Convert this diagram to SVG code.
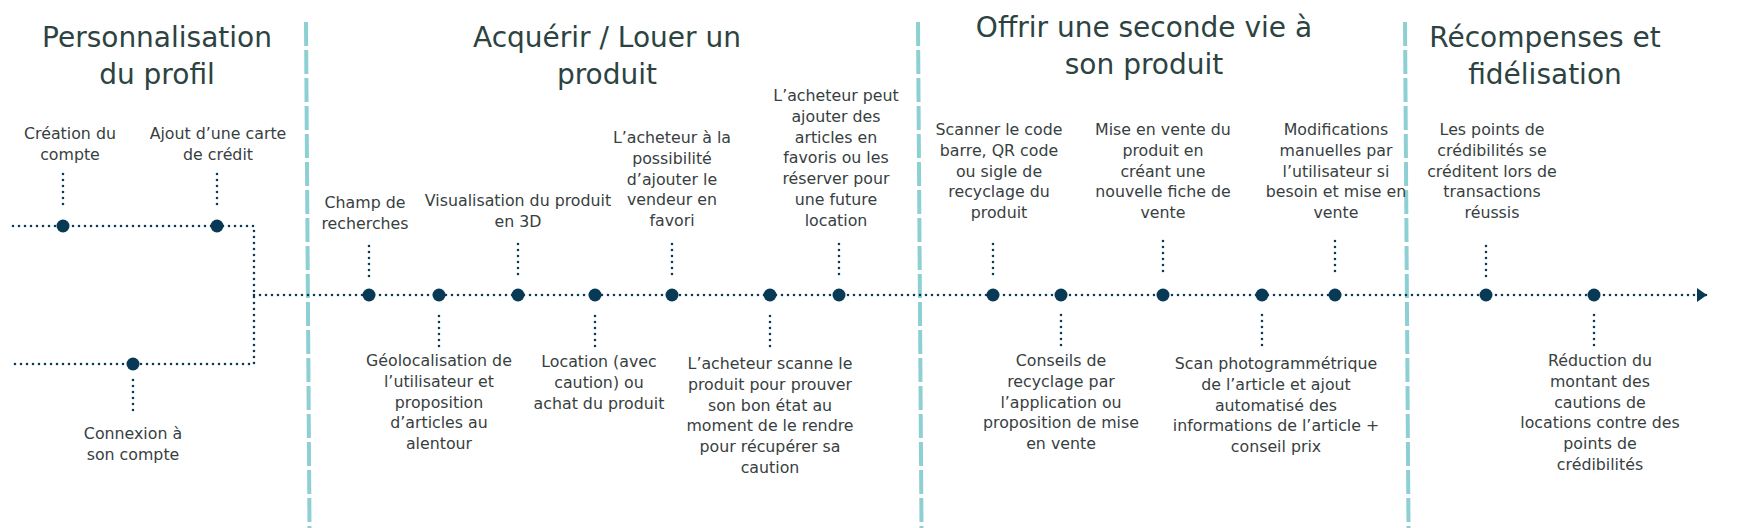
<svg xmlns="http://www.w3.org/2000/svg" width="1744" height="528" viewBox="0 0 1744 528">
<style>
.bg{fill:#ffffff}
.sep{stroke:#8dd0d3;stroke-width:4;stroke-dasharray:24 4;fill:none}
.dot{stroke:#0b3a56;stroke-width:2.6;stroke-dasharray:0 6;stroke-linecap:round;fill:none}
.node{fill:#083a55}
.title{font-family:"DejaVu Sans",sans-serif;font-size:28px;fill:#2c4341;text-anchor:middle}
.lbl{font-family:"DejaVu Sans",sans-serif;font-size:15.8px;fill:#37403f;text-anchor:middle}
</style>
<defs>
<marker id="arr" markerWidth="12" markerHeight="16" refX="10" refY="8" orient="auto" markerUnits="userSpaceOnUse">
<path d="M0,1 L10,8 L0,15 Z" fill="#083a55"/>
</marker>
</defs>
<rect class="bg" x="0" y="0" width="1744" height="528"/>

<g id="separators">
<line class="sep" x1="306" y1="22" x2="309.5" y2="528"/>
<line class="sep" x1="918" y1="22" x2="921.5" y2="528"/>
<line class="sep" x1="1405" y1="22" x2="1408.5" y2="528"/>
</g>

<g id="diagram" transform="translate(0,2)">
<g id="titles">
<text class="title" x="157" y="45">Personnalisation<tspan x="157" dy="37">du profil</tspan></text>
<text class="title" x="607" y="45">Acquérir / Louer un<tspan x="607" dy="37">produit</tspan></text>
<text class="title" x="1144" y="35">Offrir une seconde vie à<tspan x="1144" dy="37">son produit</tspan></text>
<text class="title" x="1545" y="45">Récompenses et<tspan x="1545" dy="37">fidélisation</tspan></text>
</g>

<g id="connectors">
<path class="dot" d="M13,224 H254 V362 H13"/>
<path class="dot" d="M254,293 H1707" marker-end="url(#arr)"/>
<path class="dot" d="M63,172 V203 M217,172 V203 M133,378 V410"/>
<path class="dot" d="M369,244 V275 M518,242 V273 M672,242 V273 M839,242 V273 M993,242 V273 M1163,239 V270 M1335,239 V270 M1486,244 V275"/>
<path class="dot" d="M439,314 V345 M595,314 V345 M770,314 V345 M1061,313 V344 M1262,313 V344 M1594,313 V344"/>
</g>

<g id="n-creation"><circle class="node" cx="63" cy="224" r="6.5"/><text class="lbl" x="70" y="137">Création du<tspan x="70" dy="21">compte</tspan></text></g>
<g id="n-carte"><circle class="node" cx="217" cy="224" r="6.5"/><text class="lbl" x="218" y="137">Ajout d’une carte<tspan x="218" dy="21">de crédit</tspan></text></g>
<g id="n-connexion"><circle class="node" cx="133" cy="362" r="6.5"/><text class="lbl" x="133" y="437">Connexion à<tspan x="133" dy="21">son compte</tspan></text></g>

<g id="n-champ"><circle class="node" cx="369" cy="293" r="6.5"/><text class="lbl" x="365" y="206">Champ de<tspan x="365" dy="21">recherches</tspan></text></g>
<g id="n-geoloc"><circle class="node" cx="439" cy="293" r="6.5"/><text class="lbl" x="439" y="364">Géolocalisation de<tspan x="439" dy="20.8">l’utilisateur et</tspan><tspan x="439" dy="20.8">proposition</tspan><tspan x="439" dy="20.8">d’articles au</tspan><tspan x="439" dy="20.8">alentour</tspan></text></g>
<g id="n-3d"><circle class="node" cx="518" cy="293" r="6.5"/><text class="lbl" x="518" y="204">Visualisation du produit<tspan x="518" dy="21">en 3D</tspan></text></g>
<g id="n-location"><circle class="node" cx="595" cy="293" r="6.5"/><text class="lbl" x="599" y="365">Location (avec<tspan x="599" dy="20.8">caution) ou</tspan><tspan x="599" dy="20.8">achat du produit</tspan></text></g>
<g id="n-vendeur"><circle class="node" cx="672" cy="293" r="6.5"/><text class="lbl" x="672" y="141">L’acheteur à la<tspan x="672" dy="20.8">possibilité</tspan><tspan x="672" dy="20.8">d’ajouter le</tspan><tspan x="672" dy="20.8">vendeur en</tspan><tspan x="672" dy="20.8">favori</tspan></text></g>
<g id="n-scanne"><circle class="node" cx="770" cy="293" r="6.5"/><text class="lbl" x="770" y="367">L’acheteur scanne le<tspan x="770" dy="20.8">produit pour prouver</tspan><tspan x="770" dy="20.8">son bon état au</tspan><tspan x="770" dy="20.8">moment de le rendre</tspan><tspan x="770" dy="20.8">pour récupérer sa</tspan><tspan x="770" dy="20.8">caution</tspan></text></g>
<g id="n-favoris"><circle class="node" cx="839" cy="293" r="6.5"/><text class="lbl" x="836" y="99">L’acheteur peut<tspan x="836" dy="20.8">ajouter des</tspan><tspan x="836" dy="20.8">articles en</tspan><tspan x="836" dy="20.8">favoris ou les</tspan><tspan x="836" dy="20.8">réserver pour</tspan><tspan x="836" dy="20.8">une future</tspan><tspan x="836" dy="20.8">location</tspan></text></g>

<g id="n-scanner"><circle class="node" cx="993" cy="293" r="6.5"/><text class="lbl" x="999" y="133">Scanner le code<tspan x="999" dy="20.8">barre, QR code</tspan><tspan x="999" dy="20.8">ou sigle de</tspan><tspan x="999" dy="20.8">recyclage du</tspan><tspan x="999" dy="20.8">produit</tspan></text></g>
<g id="n-conseils"><circle class="node" cx="1061" cy="293" r="6.5"/><text class="lbl" x="1061" y="364">Conseils de<tspan x="1061" dy="20.8">recyclage par</tspan><tspan x="1061" dy="20.8">l’application ou</tspan><tspan x="1061" dy="20.8">proposition de mise</tspan><tspan x="1061" dy="20.8">en vente</tspan></text></g>
<g id="n-miseenvente"><circle class="node" cx="1163" cy="293" r="6.5"/><text class="lbl" x="1163" y="133">Mise en vente du<tspan x="1163" dy="20.8">produit en</tspan><tspan x="1163" dy="20.8">créant une</tspan><tspan x="1163" dy="20.8">nouvelle fiche de</tspan><tspan x="1163" dy="20.8">vente</tspan></text></g>
<g id="n-photogram"><circle class="node" cx="1262" cy="293" r="6.5"/><text class="lbl" x="1276" y="367">Scan photogrammétrique<tspan x="1276" dy="20.8">de l’article et ajout</tspan><tspan x="1276" dy="20.8">automatisé des</tspan><tspan x="1276" dy="20.8">informations de l’article +</tspan><tspan x="1276" dy="20.8">conseil prix</tspan></text></g>
<g id="n-modifs"><circle class="node" cx="1335" cy="293" r="6.5"/><text class="lbl" x="1336" y="133">Modifications<tspan x="1336" dy="20.8">manuelles par</tspan><tspan x="1336" dy="20.8">l’utilisateur si</tspan><tspan x="1336" dy="20.8">besoin et mise en</tspan><tspan x="1336" dy="20.8">vente</tspan></text></g>

<g id="n-points"><circle class="node" cx="1486" cy="293" r="6.5"/><text class="lbl" x="1492" y="133">Les points de<tspan x="1492" dy="20.8">crédibilités se</tspan><tspan x="1492" dy="20.8">créditent lors de</tspan><tspan x="1492" dy="20.8">transactions</tspan><tspan x="1492" dy="20.8">réussis</tspan></text></g>
<g id="n-reduction"><circle class="node" cx="1594" cy="293" r="6.5"/><text class="lbl" x="1600" y="364">Réduction du<tspan x="1600" dy="20.8">montant des</tspan><tspan x="1600" dy="20.8">cautions de</tspan><tspan x="1600" dy="20.8">locations contre des</tspan><tspan x="1600" dy="20.8">points de</tspan><tspan x="1600" dy="20.8">crédibilités</tspan></text></g>
</g>
</svg>
